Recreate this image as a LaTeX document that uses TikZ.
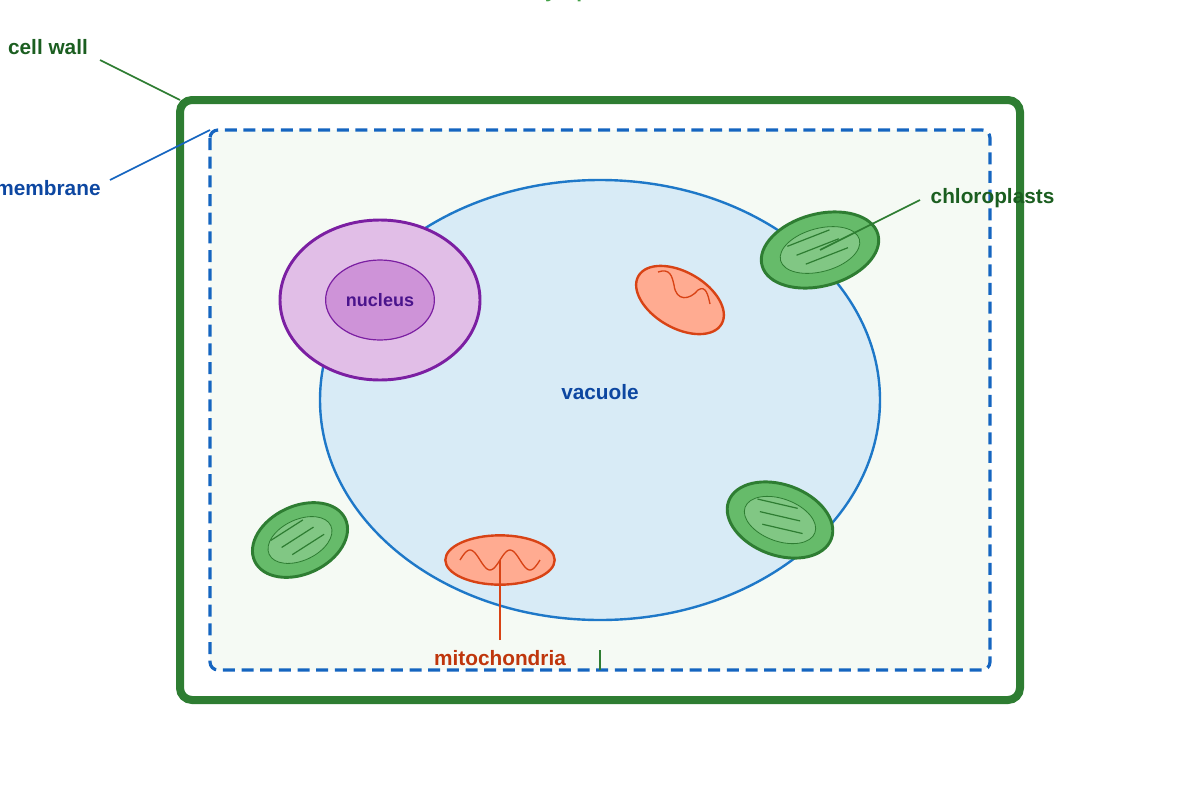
\documentclass[tikz,border=0pt]{standalone}
\usepackage{fontspec}
\setmainfont{Liberation Sans}
\usetikzlibrary{shapes.geometric,positioning}
\definecolor{wallgreen}{HTML}{2E7D32}
\definecolor{darkgreen}{HTML}{1B5E20}
\definecolor{memblue}{HTML}{1565C0}
\definecolor{vacblue}{HTML}{1E78C8}
\definecolor{labblue}{HTML}{0D47A1}
\definecolor{chlfill}{HTML}{66BB6A}
\definecolor{chlin}{HTML}{81C784}
\definecolor{mitofill}{HTML}{FFAB91}
\definecolor{mitoline}{HTML}{D84315}
\definecolor{mitotext}{HTML}{BF360C}
\tikzset{
  label/.style={font=\bfseries\fontsize{15.6}{18}\selectfont},
  chloro/.style={ellipse,draw=wallgreen,fill=chlfill,line width=2.2pt,inner sep=0pt},
  chlin/.style={ellipse,draw=wallgreen,fill=chlin,line width=0.6pt,inner sep=0pt},
  mito/.style={ellipse,draw=mitoline,fill=mitofill,line width=1.8pt,inner sep=0pt},
  leader/.style={line width=1.2pt}
}
\begin{document}
\begin{tikzpicture}[x=0.75pt,y=-0.75pt]
\useasboundingbox (0,0) rectangle (1200,800);
% cell wall and membrane
\draw[wallgreen,line width=6pt,rounded corners=9pt] (180,100) rectangle (1020,700);
\draw[memblue,fill={rgb,255:red,245;green,250;blue,244},line width=2.4pt,
  dash pattern=on 9pt off 5pt,rounded corners=6pt] (210,130) rectangle (990,670);
% vacuole
\node[ellipse,draw=vacblue,fill={rgb,255:red,216;green,235;blue,246},line width=1.8pt,
  minimum width=420pt,minimum height=330pt] (vac) at (600,400) {};
\node[label,text=labblue] at (600,392) {vacuole};
% nucleus
\node[ellipse,draw={rgb,255:red,123;green,31;blue,162},fill={rgb,255:red,225;green,190;blue,231},
  line width=2.2pt,minimum width=150pt,minimum height=120pt] (nuc) at (380,300) {};
\node[ellipse,draw={rgb,255:red,123;green,31;blue,162},fill={rgb,255:red,206;green,147;blue,216},
  line width=0.9pt,minimum width=75pt,minimum height=60pt,
  font=\bfseries\fontsize{13.5}{15}\selectfont,text={rgb,255:red,74;green,20;blue,140}] (ncl) at (nuc.center) {nucleus};
% chloroplasts
\foreach \n/\x/\y/\r/\w/\h in {1/820/250/15/90/54, 2/300/540/25/75/51, 3/780/520/-20/82/53}{
  \node[chloro,rotate=\r,minimum width=\w pt,minimum height=\h pt] (c\n) at (\x,\y) {};
  \node[chlin,rotate=\r,minimum width=0.68*\w pt,minimum height=0.6*\h pt] (ci\n) at (\x,\y) {};
  \begin{scope}[shift={(c\n.center)},rotate=\r,x=0.75pt,y=-0.75pt]
    \foreach \d in {-9,2,13}
      \draw[wallgreen,line width=0.9pt] (-0.28*\w+\d*0.6,\d-3) -- (0.22*\w+\d*0.6,\d-8);
  \end{scope}
}
% mitochondria
\node[mito,rotate=-30,minimum width=72pt,minimum height=42pt] (m1) at (680,300) {};
\draw[mitoline,line width=1pt] (658,272) .. controls (670,268) and (672,276) .. (674,285)
  .. controls (676,302) and (690,300) .. (698,290) .. controls (706,285) and (708,295) .. (710,304);
\node[mito,minimum width=82pt,minimum height=37pt] (m2) at (500,560) {};
\draw[mitoline,line width=1pt,domain=0:80,samples=60,smooth]
  plot ({460+\x},{560-10*sin(\x*9)});
% labels and leaders
\node[label,text=darkgreen] (cw) at (48,47) {cell wall};
\coordinate (cwa) at (100,60);
\draw[wallgreen,leader] (cwa) -- (180,100);
\node[label,text=labblue] (mem) at (48,188) {membrane};
\coordinate (mema) at (110,180);
\draw[memblue,leader] (mema) -- (210,130);
\node[label,text=darkgreen,anchor=west] (chl) at (926,198) {chloroplasts};
\coordinate (chla) at (920,200);
\draw[wallgreen,leader] (chla) -- (c1.center);
\node[label,text=mitotext] (mit) at (500,658) {mitochondria};
\coordinate (mita) at (500,640);
\draw[mitoline,leader] (mita) -- (m2.center);
\node[label,text={rgb,255:red,67;green,160;blue,71}] (cyt) at (585,-8) {cytoplasm};
\coordinate (cyta) at (600,650);
\draw[wallgreen,leader] (cyta) -- (600,670);
\end{tikzpicture}
\end{document}
